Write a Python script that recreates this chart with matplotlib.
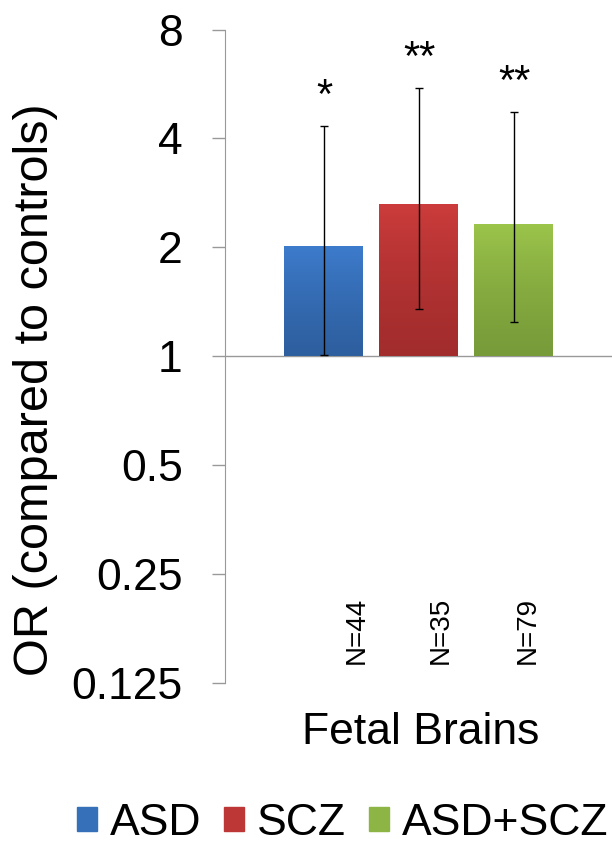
import matplotlib.pyplot as plt
import numpy as np
from matplotlib.colors import LinearSegmentedColormap

plt.rcParams['font.family'] = ['Liberation Sans', 'DejaVu Sans']

groups = ["ASD", "SCZ", "ASD+SCZ"]
odds = [2.02, 2.64, 2.32]
ci_low = [1.01, 1.35, 1.245]
ci_high = [4.33, 5.53, 4.72]
stars = ["*", "**", "**"]
n_labels = ["N=44", "N=35", "N=79"]
# top / bottom colours of each bar's gradient
top_colors = ["#3d7ccd", "#cd3c3c", "#9cc54b"]
bottom_colors = ["#2e5f9f", "#a22c2c", "#779b39"]
legend_colors = ["#3670b8", "#be3737", "#8db545"]
yticks = [0.125, 0.25, 0.5, 1, 2, 4, 8]
ytick_labels = ["0.125", "0.25", "0.5", "1", "2", "4", "8"]

fig = plt.figure(figsize=(6.12, 8.47), dpi=100)
ax = fig.add_axes([0.3676, 0.194, 0.6324, 0.771])

x = np.arange(len(groups))
base = 1.0
heights = [v - base for v in odds]
yerr = [np.array(odds) - np.array(ci_low), np.array(ci_high) - np.array(odds)]
bars = ax.bar(x, heights, bottom=base, width=0.84, color='none', zorder=2)

grad = np.linspace(0, 1, 256).reshape(-1, 1)
for b, ct, cb in zip(bars, top_colors, bottom_colors):
    cmap = LinearSegmentedColormap.from_list("g", [cb, ct])
    x0, y0 = b.get_x(), b.get_y()
    im = ax.imshow(grad, cmap=cmap, origin='lower', aspect='auto', zorder=2,
                   extent=(x0, x0 + b.get_width(), y0, y0 + b.get_height()))
    im.set_clip_path(b)

ax.errorbar(x, odds, yerr=yerr, fmt='none', ecolor='black', elinewidth=1,
            capsize=3, capthick=1, zorder=3)

ax.set_yscale('log', base=2)
ax.set_ylim(0.125, 8)
ax.set_xlim(-1.047, 3.03)
ax.set_yticks(yticks)
ax.set_yticklabels(ytick_labels)
ax.minorticks_off()
ax.tick_params(axis='y', direction='out', length=9.4, width=1, color='#999999',
               labelsize=32, pad=21)
ax.set_xticks([])
for s in ['top', 'right', 'bottom']:
    ax.spines[s].set_visible(False)
ax.spines['left'].set_color('#999999')
ax.axhline(1, color='#999999', lw=1, zorder=1)

for i in range(len(groups)):
    ax.annotate(stars[i], (x[i], ci_high[i]), xytext=(0, 13), textcoords='offset points',
                ha='center', va='baseline', fontsize=30)

n_x = [0.34, 1.23, 2.14]
for i in range(len(groups)):
    ax.text(n_x[i], 0.1745, n_labels[i], rotation=90, ha='center', va='center',
            fontsize=20)

ax.set_ylabel("OR (compared to controls)", fontsize=35)
ax.yaxis.set_label_coords(-0.432, 0.448)
ax.text(0.506, -0.077, "Fetal Brains", transform=ax.transAxes, ha='center',
        va='center', fontsize=32)

handles = [plt.Rectangle((0, 0), 1, 1, color=c) for c in legend_colors]
fig.legend(handles, groups, loc='center', bbox_to_anchor=(0.56, 0.028), ncol=3,
           frameon=False, fontsize=32, handlelength=0.45, handleheight=0.45,
           handletextpad=0.3, columnspacing=0.5, borderpad=0)

fig.savefig("out.png", dpi=100)
